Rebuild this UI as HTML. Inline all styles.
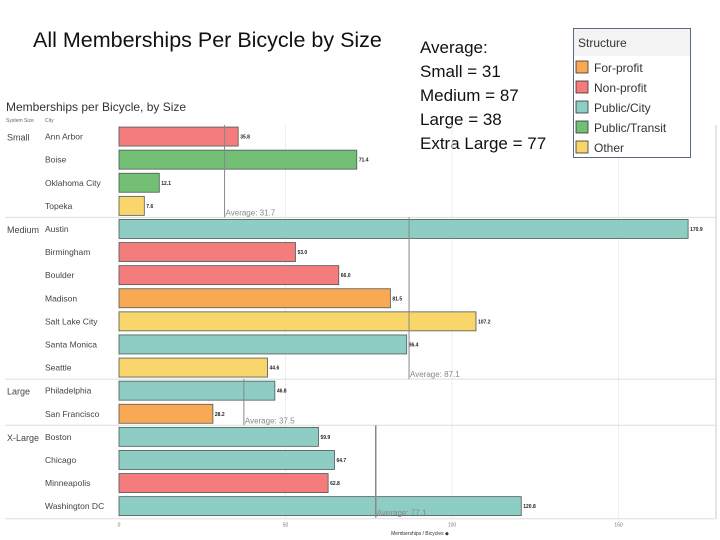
<!DOCTYPE html>
<html><head><meta charset="utf-8">
<style>
body{margin:0;width:720px;height:540px;background:#fff;overflow:hidden;font-family:"Liberation Sans",sans-serif;position:relative}
.t{position:absolute;color:#111}
</style></head>
<body>
<div class="t" style="left:33px;top:28px;font-size:21.5px;">All Memberships Per Bicycle by Size</div>
<div class="t" style="left:420px;top:36px;font-size:17px;line-height:24px;">Average:<br>Small = 31<br>Medium = 87<br>Large = 38<br>Extra Large = 77</div>
<svg id="chart" width="720" height="540" style="position:absolute;left:0;top:0" xmlns="http://www.w3.org/2000/svg"></svg>
<script>
const cities=["Ann Arbor","Boise","Oklahoma City","Topeka","Austin","Birmingham","Boulder","Madison","Salt Lake City","Santa Monica","Seattle","Philadelphia","San Francisco","Boston","Chicago","Minneapolis","Washington DC"];
const values=[35.8,71.4,12.1,7.6,170.9,53.0,66.0,81.5,107.2,86.4,44.6,46.8,28.2,59.9,64.7,62.8,120.8];
const structures=["Non-profit","Public/Transit","Public/Transit","Other","Public/City","Non-profit","Non-profit","For-profit","Other","Public/City","Other","Public/City","For-profit","Public/City","Public/City","Non-profit","Public/City"];
const groups=["Small","Medium","Large","X-Large"];
const groupStart=[0,4,11,13];
const groupAvg=[31.7,87.1,37.5,77.1];
const ticks=[0,50,100,150];
const legendItems=["For-profit","Non-profit","Public/City","Public/Transit","Other"];
const colors={"For-profit":"#f9a953","Non-profit":"#f47c7c","Public/City":"#8ecdc4","Public/Transit":"#72bf75","Other":"#f8d66b"};
const x0=119,pxPer=3.33,rowTop=125,rowH=23.1,barH=19;
const X=v=>x0+v*pxPer;
const Y=i=>rowTop+i*rowH;
const svg=document.getElementById('chart');
const NS='http://www.w3.org/2000/svg';
function el(tag,a,txt){const e=document.createElementNS(NS,tag);for(const k in a)e.setAttribute(k,a[k]);if(txt!==undefined)e.textContent=txt;svg.appendChild(e);return e;}
const n=cities.length;
const bottom=Y(n)+1;
let h=el('text',{x:6,y:111,'font-size':12,fill:'#333'},'Memberships per Bicycle, by Size');


h=el('text',{x:6,y:122,'font-size':5,fill:'#666'},'System Size');


h=el('text',{x:45,y:122,'font-size':5,fill:'#666'},'City');


ticks.forEach(t=>{
 const g=el('line',{x1:X(t),x2:X(t),y1:rowTop,y2:bottom,stroke:'#eee','stroke-width':1});
 
 
 const tl=el('text',{x:X(t),y:bottom+8,'font-size':5,fill:'#777','text-anchor':'middle'},t);
 
 
});
let b=el('line',{x1:716,x2:716,y1:rowTop,y2:bottom,stroke:'#ccc'});


b=el('line',{x1:5,x2:716,y1:bottom,y2:bottom,stroke:'#ddd'});


let at=el('text',{x:420,y:535,'font-size':5,fill:'#333','text-anchor':'middle'},'Memberships / Bicycles ◆');


groups.forEach((g,gi)=>{
 const s=groupStart[gi];
 if(gi>0){const sep=el('line',{x1:5,x2:716,y1:Y(s),y2:Y(s),stroke:'#ddd'});
 
 }
 const gl=el('text',{x:7,y:Y(s)+rowH/2+4,'font-size':9,fill:'#444'},g);
 
 
});
cities.forEach((c,i)=>{
 const cy=Y(i)+rowH/2;
 const l=el('text',{x:45,y:cy+3,'font-size':8.5,fill:'#444'},c);
 
 
 const r=el('rect',{x:x0,y:cy-barH/2,width:values[i]*pxPer,height:barH,fill:colors[structures[i]],stroke:'#4a5a55','stroke-width':0.8});
 
 
 const v=el('text',{x:X(values[i])+2,y:cy+2,'font-size':5,fill:'#222','font-weight':'bold'},values[i].toFixed(1));
 
 
});
groups.forEach((g,gi)=>{
 const s=groupStart[gi],e=gi<groups.length-1?groupStart[gi+1]:n;
 const ax=X(groupAvg[gi]);
 const ln=el('line',{x1:ax,x2:ax,y1:Y(s),y2:Y(e),stroke:'#888','stroke-width':gi==3?1.5:1});
 
 
 const at=el('text',{x:ax+1,y:Y(e)-2,'font-size':8,fill:'#888'},'Average: '+groupAvg[gi]);
 
 
});
const lg=el('rect',{x:573.5,y:28.5,width:117,height:129,fill:'#fff',stroke:'#5a6a80'});


const lh=el('rect',{x:574,y:29,width:116,height:27,fill:'#f3f3f3'});


const lt=el('text',{x:578,y:47,'font-size':12,fill:'#333'},'Structure');


legendItems.forEach((k,i)=>{
 const y=61+i*20;
 const sw=el('rect',{x:576,y:y,width:12,height:12,fill:colors[k],stroke:'#333','stroke-width':0.8});
 
 
 const tx=el('text',{x:594,y:y+11,'font-size':12,fill:'#333'},k);
 
 
});
</script>
</body></html>
